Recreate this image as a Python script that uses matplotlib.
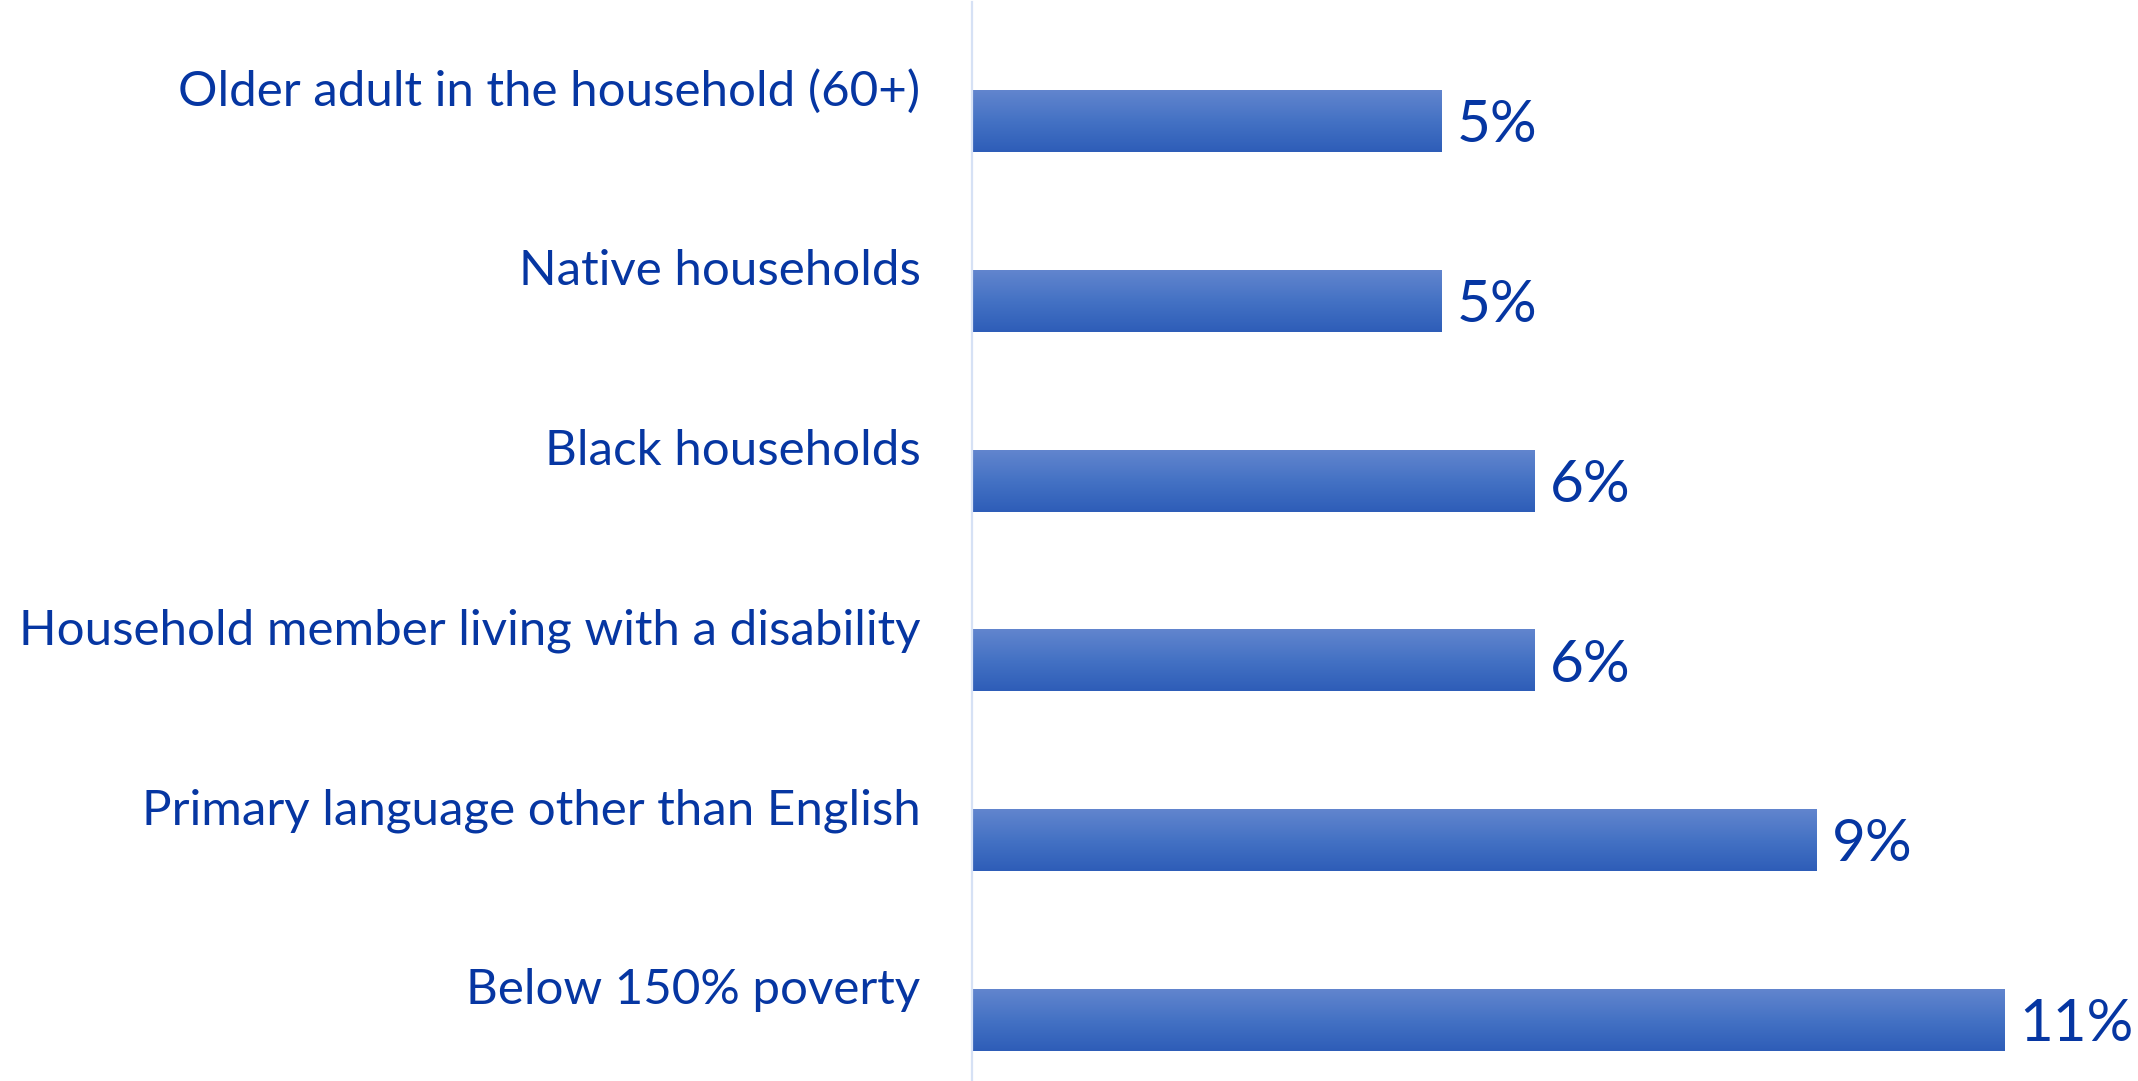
import matplotlib.pyplot as plt
import matplotlib.transforms as mtransforms
from matplotlib.colors import LinearSegmentedColormap
import numpy as np

categories = [
    'Older adult in the household (60+)',
    'Native households',
    'Black households',
    'Household member living with a disability',
    'Primary language other than English',
    'Below 150% poverty',
]
values = [5, 5, 6, 6, 9, 11]
value_labels = ['5%', '5%', '6%', '6%', '9%', '11%']

text_color = '#0636A2'
grad = LinearSegmentedColormap.from_list('bar', ['#2E5DB8', '#4472C4', '#6285CE'])

plt.rcParams['font.family'] = ['Lato', 'DejaVu Sans']

fig = plt.figure(figsize=(21.38, 10.81), dpi=100)
# axis line sits at x=972px, 12% spans ~1126px
ax = fig.add_axes([972 / 2138, 0, 1126 / 2138, 1079 / 1081])

y = np.arange(len(categories))
bars = ax.barh(y, values, height=0.34, color='none', edgecolor='none')

# vertical gradient inside each bar
g = np.linspace(0, 1, 256).reshape(-1, 1)
for b in bars:
    x0, y0 = b.get_x(), b.get_y()
    ax.imshow(g, cmap=grad, aspect='auto', origin='upper',
              extent=(x0, x0 + b.get_width(), y0, y0 + b.get_height()),
              zorder=2)

ax.set_xlim(0, 12)
ax.set_ylim(5.337, -0.665)

for yi, v, lab in zip(y, values, value_labels):
    ax.annotate(lab, (v, yi), xytext=(11, -3), textcoords='offset points',
                va='center', ha='left', fontsize=42, color=text_color,
                annotation_clip=False)

ax.set_yticks(y)
ax.set_yticklabels(categories, fontsize=35.5, color=text_color)
ax.tick_params(axis='y', length=0, pad=37)
ax.set_xticks([])
# labels sit above the bar centres in the original
offset = mtransforms.ScaledTranslation(0, 34 / 100, fig.dpi_scale_trans)
for t in ax.get_yticklabels():
    t.set_transform(t.get_transform() + offset)

for s in ['top', 'right', 'bottom']:
    ax.spines[s].set_visible(False)
ax.spines['left'].set_color('#D6E1F5')
ax.spines['left'].set_linewidth(1.6)
ax.patch.set_alpha(0)

fig.savefig('out.png', dpi=100)
